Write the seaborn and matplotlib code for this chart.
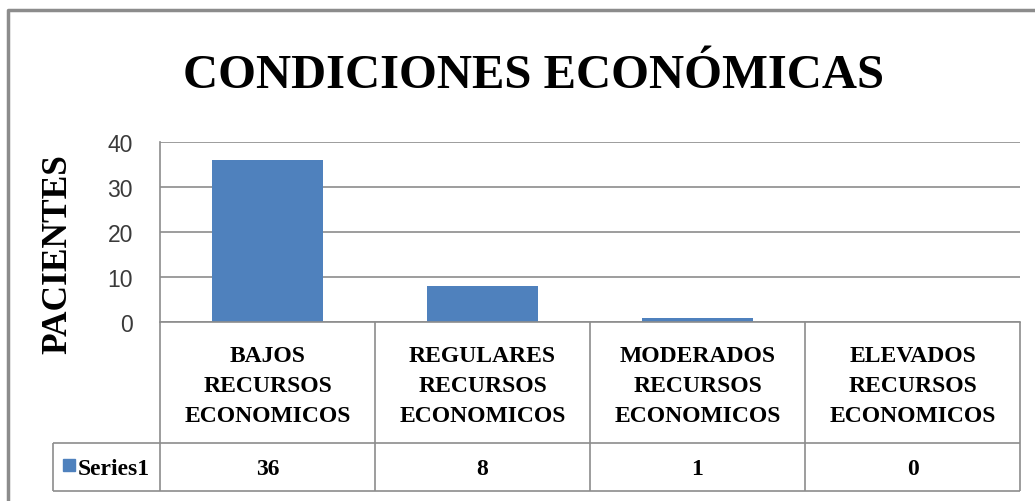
import matplotlib
matplotlib.use('Agg')
import matplotlib.pyplot as plt
import seaborn as sns
from matplotlib.lines import Line2D

# Datos del gráfico
categorias = [
    'BAJOS\nRECURSOS\nECONOMICOS',
    'REGULARES\nRECURSOS\nECONOMICOS',
    'MODERADOS\nRECURSOS\nECONOMICOS',
    'ELEVADOS\nRECURSOS\nECONOMICOS',
]
pacientes = [36, 8, 1, 0]
serie = 'Series1'
titulo = 'CONDICIONES ECONÓMICAS'
eje_y = 'PACIENTES'
marcas_y = [0, 10, 20, 30, 40]

AZUL = '#4F81BD'
GRIS = '#8C8C8C'
SERIF = ['Liberation Serif', 'DejaVu Serif']

sns.set_style('white')
plt.rcParams['font.family'] = ['Liberation Sans', 'DejaVu Sans']

W, H = 1035, 502
fig = plt.figure(figsize=(W / 100, H / 100), dpi=100)


def caja(x0, y0, x1, y1):
    """Convierte un rectángulo en píxeles (origen arriba-izq.) a fracción de figura."""
    return [x0 / W, 1 - y1 / H, (x1 - x0) / W, (y1 - y0) / H]


# Zona de barras
ax = fig.add_axes(caja(160, 143, 1020, 323))
sns.barplot(x=categorias, y=pacientes, color=AZUL, width=0.52,
            saturation=1, linewidth=0, ax=ax)
ax.set_ylim(0, 40)
ax.set_yticks(marcas_y)
ax.yaxis.grid(True, color=GRIS, lw=1.2)
ax.set_axisbelow(True)
ax.tick_params(axis='y', length=0, pad=19.5, labelsize=16.5, labelcolor='#3a3a3a')
ax.set_xticks([])
ax.set_xlabel('')
ax.set_ylabel('')
for s in ['top', 'right']:
    ax.spines[s].set_visible(False)
for s in ['left', 'bottom']:
    ax.spines[s].set_color(GRIS)
    ax.spines[s].set_linewidth(1.2)

# Tabla de datos bajo el gráfico
x_izq = -0.5 - 107 / 215
sep = 48 / 169
tb = fig.add_axes(caja(53, 323, 1020, 492))
tb.set_xlim(x_izq, len(categorias) - 0.5)
tb.set_ylim(0, 1)
tb.axis('off')

bordes = [i - 0.5 for i in range(len(categorias) + 1)]
tb.hlines([0, sep], x_izq, bordes[-1], color=GRIS, lw=1.2, clip_on=False)
tb.vlines(bordes, 0, 1, color=GRIS, lw=1.2, clip_on=False)
tb.vlines([x_izq], 0, sep, color=GRIS, lw=1.2, clip_on=False)

texto = dict(fontsize=17, fontweight='bold', family=SERIF, color='black')
for i, (cat, v) in enumerate(zip(categorias, pacientes)):
    tb.text(i, (sep + 1) / 2 - 3 / 169, cat, ha='center', va='center',
            linespacing=1.55, **texto)
    tb.text(i, sep / 2 - 2 / 169, str(v), ha='center', va='center', **texto)

tb.plot([x_izq + 15.5 / 215], [sep / 2 + 0.01], marker='s', ms=8, color=AZUL,
        clip_on=False)
tb.text(x_izq + 25 / 215, sep / 2 - 2 / 169, serie, ha='left', va='center', **texto)

# Título y etiqueta del eje
fig.text(534 / W, 1 - 76 / H, titulo, ha='center', va='center', fontsize=35,
         fontweight='bold', family=SERIF, color='black')
fig.text(58 / W, 1 - 254 / H, eje_y, ha='center', va='center', rotation=90,
         fontsize=25.5, fontweight='bold', family=SERIF, color='black')

# Marco del área del gráfico
fig.add_artist(Line2D([8 / W, 8 / W, 1], [0, 1 - 11 / H, 1 - 11 / H],
                      transform=fig.transFigure, color=GRIS, lw=2.5))

fig.savefig('out.png', dpi=100)
